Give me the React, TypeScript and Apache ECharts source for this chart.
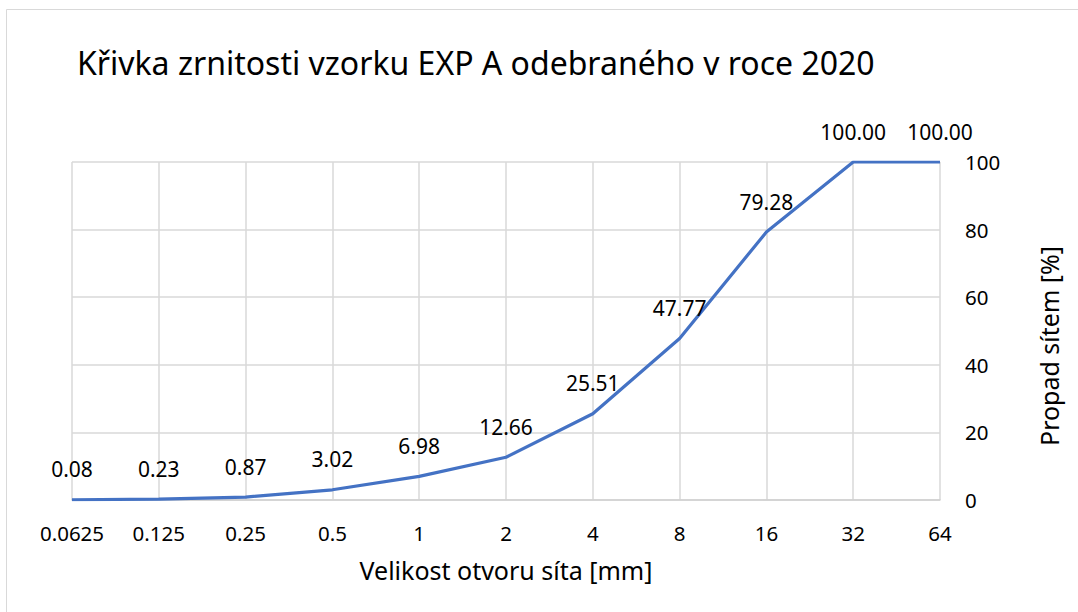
import React, { useEffect, useRef } from "react";
import * as echarts from "echarts";

const sieveSizes = ["0.0625", "0.125", "0.25", "0.5", "1", "2", "4", "8", "16", "32", "64"];
const passing = [0.08, 0.23, 0.87, 3.02, 6.98, 12.66, 25.51, 47.77, 79.28, 100.0, 100.0];
const titleText = "Křivka zrnitosti vzorku EXP A odebraného v roce 2020";
const xName = "Velikost otvoru síta [mm]";
const yName = "Propad sítem [%]";

const FONT = "'Noto Sans', sans-serif";

export default function App() {
  const ref = useRef<HTMLDivElement>(null);
  useEffect(() => {
    if (!ref.current) return;
    const chart = echarts.init(ref.current, undefined, { renderer: "svg" });
    chart.setOption({
      animation: false,
      backgroundColor: "#ffffff",
      textStyle: { fontFamily: FONT },
      graphic: [
        {
          type: "rect",
          shape: { x: 6.5, y: 9.5, width: 1200, height: 800 },
          style: { fill: "none", stroke: "#d9d9d9", lineWidth: 1 },
          silent: true,
        },
      ],
      title: {
        text: titleText,
        left: 72,
        top: 41,
        textStyle: { fontFamily: FONT, fontSize: 32, fontWeight: "normal", color: "#000" },
      },
      grid: { left: 72, right: 138, top: 162, bottom: 112, containLabel: false },
      xAxis: {
        type: "category",
        data: sieveSizes,
        boundaryGap: false,
        axisLine: { show: true, lineStyle: { color: "#d0d0d0", width: 1.5 } },
        axisTick: { show: false },
        splitLine: { show: true, lineStyle: { color: "#d9d9d9", width: 1.5 } },
        axisLabel: { color: "#000", fontSize: 20.5, margin: 22, fontFamily: FONT },
        name: xName,
        nameLocation: "middle",
        nameGap: 57,
        nameTextStyle: { color: "#000", fontSize: 25, fontFamily: FONT },
      },
      yAxis: {
        type: "value",
        position: "right",
        min: 0,
        max: 100,
        interval: 20,
        axisLine: { show: false },
        axisTick: { show: false },
        splitLine: { show: true, lineStyle: { color: "#d9d9d9", width: 1.5 } },
        axisLabel: { color: "#000", fontSize: 20.5, margin: 25, fontFamily: FONT },
        name: yName,
        nameLocation: "middle",
        nameRotate: 90,
        nameGap: 96,
        nameTextStyle: { color: "#000", fontSize: 25, fontFamily: FONT, padding: [0, 30, 0, 0] },
      },
      series: [
        {
          type: "line",
          data: passing,
          showSymbol: true,
          symbol: "circle",
          symbolSize: 0,
          lineStyle: { color: "#4472C4", width: 3.2 },
          itemStyle: { color: "#4472C4" },
          label: {
            show: true,
            position: "top",
            distance: 20,
            color: "#000",
            fontSize: 21,
            fontFamily: FONT,
            formatter: (p: any) => Number(p.value).toFixed(2),
          },
        },
      ],
    });
    return () => chart.dispose();
  }, []);
  return (
    <div
      ref={ref}
      style={{ position: "fixed", left: 0, top: 0, width: 1078, height: 612 }}
    />
  );
}
